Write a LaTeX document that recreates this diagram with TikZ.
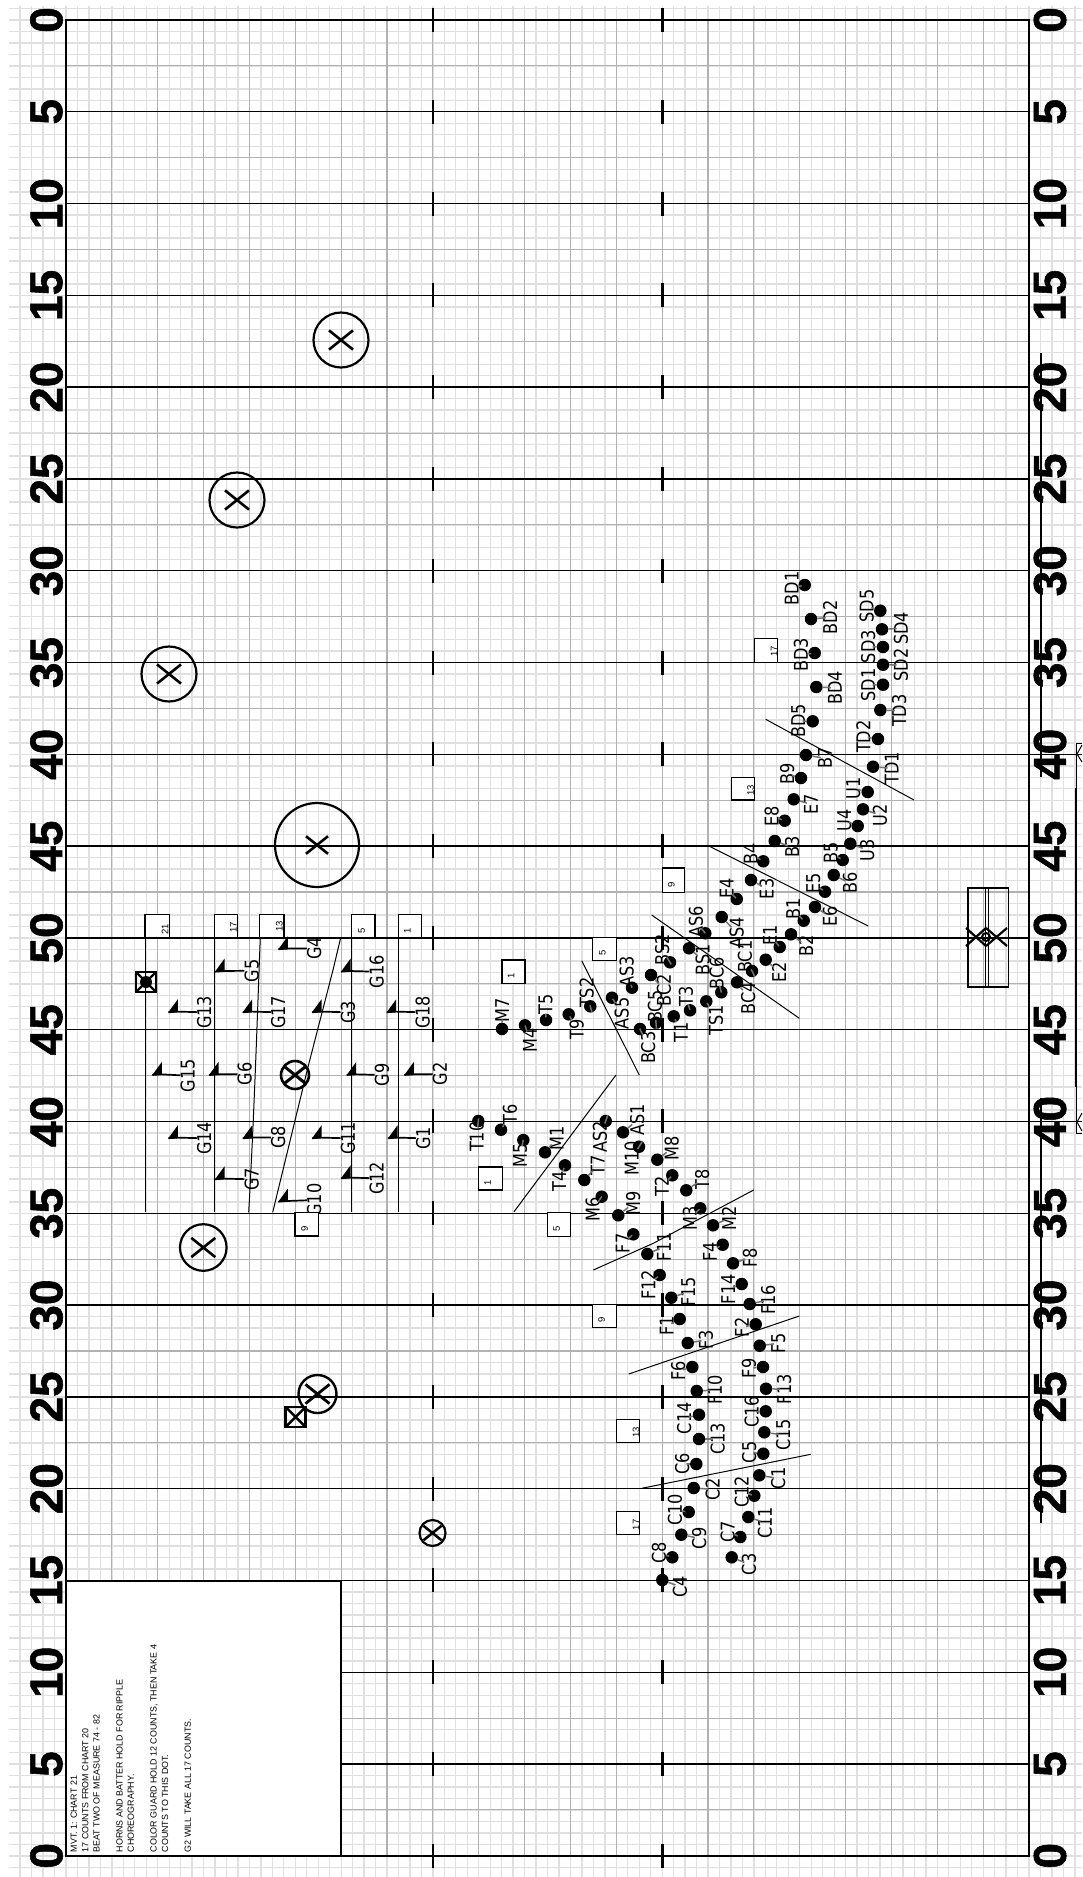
\documentclass[tikz,border=0pt]{standalone}
\usepackage{fontspec}
\setmainfont{Liberation Sans}
\newfontfamily\dvu[FakeStretch=0.85]{DejaVu Sans}
\newfontfamily\bigf[BoldFeatures={FakeBold=1.2}]{Liberation Sans}
\newcommand\FY{91.79}
\tikzset{
  fine/.style={draw=black!12,line width=1.3pt},
  medium/.style={draw=black!30,line width=1.1pt},
  yard/.style={draw=black,line width=1.4pt},
  hashm/.style={draw=black,line width=2.6pt},
  form/.style={draw=black,line width=1pt},
  lab/.style={rotate=90,inner sep=0pt,font=\dvu\fontsize{19}{19}\selectfont},
  dotn/.style={circle,fill=black,inner sep=0pt,minimum size=12.5pt},
  leader/.style={draw=black!55,line width=1.5pt,shorten >=-3pt},
  bignum/.style={rotate=90,inner sep=0pt,font=\bigf\bfseries\fontsize{46}{46}\selectfont},
  cbx/.style={draw=black,fill=white,line width=1.1pt},
  cnum/.style={rotate=90,inner sep=0pt,font=\fontsize{9.5}{9.5}\selectfont},
  stem/.style={draw=black,line width=1.7pt},
  ringm/.style={draw=black},
}
\newcommand\dl[5]{%
  \node[lab] (l#1) at (#4,#5) {#1};
  \node[dotn] (d#1) at (#2,#3) {};
  \draw[leader] (d#1) -- (l#1);}
\newcommand\gd[5]{%
  \coordinate (f#1) at (#2,#3);
  \node[lab] (l#1) at (#4,#5) {#1};
  \fill (f#1) -- ++(9.5,0) -- ++(0,-13) -- cycle;
  \draw[stem] (f#1) -- ++(9,-0.7) coordinate (s#1) -- (l#1);
  }
\newcommand\cb[7]{%
  \draw[cbx] (#1,#2) rectangle (#3,#4);
  \node[cnum] at (#6,#7) {#5};}
\newcommand\cx[5]{%
  \draw[ringm,line width=#5pt] (#1,#2) circle[radius=#3pt];
  \draw[line width=#5pt+0.4pt] (#1-#4,#2-#4*.8) -- (#1+#4,#2+#4*.8) (#1-#4,#2+#4*.8) -- (#1+#4,#2-#4*.8);}
\newcommand\sqx[2]{%
  \draw[line width=2.4pt] (#1-10,#2-10) rectangle (#1+10,#2+10);
  \draw[line width=2.4pt] (#1-10,#2-10) -- (#1+10,#2+10) (#1-10,#2+10) -- (#1+10,#2-10);}
\begin{document}
\begin{tikzpicture}[x=1pt,y=-1pt]
\path[use as bounding box,fill=white] (0,0) rectangle (1082,1877);
% light paper grid
\foreach \k in {-4,...,88} \draw[fine] ({66+11.465*\k},6) -- ({66+11.465*\k},1877);
\foreach \k in {-1,...,161} \draw[fine] (9,{20+11.4745*\k}) -- (1082,{20+11.4745*\k});
% medium grid
\foreach \k in {1,...,20} \draw[medium] ({66+45.86*\k},20) -- ({66+45.86*\k},1855.8);
\foreach \k in {0,...,19} \draw[medium] (66,{20+\FY*(\k+.5)}) -- (1029,{20+\FY*(\k+.5)});
% yard lines and hashes
\foreach \k in {0,...,20} {
  \draw[yard] (66,{20+\FY*\k}) -- (1029,{20+\FY*\k});
  \draw[hashm] (432.8,{20+\FY*\k-12}) -- (432.8,{20+\FY*\k+12});
  \draw[hashm] (662.3,{20+\FY*\k-12}) -- (662.3,{20+\FY*\k+12});
}
\draw[yard] (1029,754.3) -- (1082,754.3) (1029,1121.5) -- (1082,1121.5);
\draw[draw=black,line width=1.6pt] (66,20) rectangle (1029,1855.8);
% outside marks on the right
\draw[line width=2.2pt] (1041,353) -- (1041,777) (1041,1098) -- (1041,1523);
\draw[line width=0.9pt] (1076,743) -- (1076,1133) (1076,743) -- (1082,743) (1076,1133) -- (1082,1133);
\draw[line width=2pt] (1076,788) -- (1076,1087);
\draw[line width=1pt] (1082,745) -- (1077,754) -- (1082,762) (1082,1113) -- (1077,1122) -- (1082,1131);
% yard numbers
\foreach \k/\n in {0/0,1/5,2/10,3/15,4/20,5/25,6/30,7/35,8/40,9/45,10/50,11/45,12/40,13/35,14/30,15/25,16/20,17/15,18/10,19/5,20/0} {
  \node[bignum] (nl\k) at (46.5,{20+\FY*\k}) {\n};
  \node[bignum] (nr\k) at (1050,{20+\FY*\k}) {\n};
}
% notes box
\draw[draw=black,fill=white,line width=1.4pt] (66,1580.8) rectangle (341,1855.8);
\node[rotate=90,anchor=north west,inner sep=0pt,align=left,font=\fontsize{8.9}{11.4}\selectfont] (notes) at (70.5,1852.5) {MVT. 1: CHART 21\\17 COUNTS FROM CHART 20\\BEAT TWO OF MEASURE 74 - 82\\ \\HORNS AND BATTER HOLD FOR RIPPLE\\CHOREOGRAPHY.\\ \\COLOR GUARD HOLD 12 COUNTS, THEN TAKE 4\\COUNTS TO THIS DOT.\\ \\G2 WILL TAKE ALL 17 COUNTS.};
% guard form lines
\draw[form] (145,937.7) -- (145,1212.3) (214.3,937.7) -- (214.3,1212.3) (351.7,937.7) -- (351.7,1212.3) (398.3,937.7) -- (398.3,1212.3);
\draw[form] (260.3,937.7) .. controls (258.5,980) and (255,1100) .. (248.7,1212.3);
\draw[form] (340.7,937.7) -- (333,970) -- (308,1067) -- (272.7,1212.3);
% other form lines
\draw[form] (581.7,960.7) -- (639.3,1075);
\draw[form] (616,1075) -- (514,1211.7);
\draw[form] (753.7,1190) -- (653.3,1243.3) -- (593.3,1270);
\draw[form] (799.3,1316) -- (628.7,1374);
\draw[form] (810.7,1454.3) -- (641.7,1488.3);
\draw[form] (651.7,915) -- (799.3,1018.3);
\draw[form] (708.3,845.7) -- (868.3,926);
\draw[form] (765.7,719.3) -- (914,800);
% guard flags
\gd{G4}{278.3}{949.3}{314.3}{948.3}
\gd{G5}{215}{971.7}{251.7}{970.7}
\gd{G16}{341}{971.7}{376.7}{971.7}
\gd{G13}{168.3}{1012.3}{204.3}{1012.3}
\gd{G17}{242.7}{1012.3}{278.3}{1012.3}
\gd{G3}{312}{1012.3}{348}{1012.3}
\gd{G18}{386.7}{1012.3}{422.7}{1012.3}
\gd{G15}{152.3}{1075}{187.7}{1075.7}
\gd{G6}{209}{1075}{244.7}{1074}
\gd{G9}{346.7}{1075}{382}{1075}
\gd{G2}{404.3}{1075}{440}{1074}
\gd{G14}{168.3}{1138.3}{204.3}{1138.3}
\gd{G8}{242.7}{1138.3}{278.3}{1137.3}
\gd{G11}{312}{1138.3}{348}{1138.3}
\gd{G1}{388}{1138.3}{423.3}{1138.3}
\gd{G7}{215}{1179.3}{251.7}{1179.3}
\gd{G12}{341}{1178.3}{376.7}{1178.3}
\gd{G10}{278.3}{1201.7}{314.3}{1200}
% performers
\dl{M7}{502}{1029}{502.3}{1010}
\dl{M4}{525}{1025.3}{530}{1040.7}
\dl{T5}{546}{1020}{545.7}{1004}
\dl{T9}{568.7}{1014.3}{576.7}{1029.3}
\dl{TS2}{590.3}{1006.3}{586.7}{992.7}
\dl{AS3}{632}{987.7}{626.7}{971.7}
\dl{AS5}{612}{997.7}{621.7}{1013.3}
\dl{BC2}{651}{975}{664}{990}
\dl{BS2}{670}{962.3}{662.3}{950}
\dl{BC5}{656}{1022.7}{655}{1006.7}
\dl{BC3}{640}{1029}{648.3}{1047.7}
\dl{T1}{673.7}{1016.3}{681}{1032.3}
\dl{T3}{690}{1010.3}{686}{996.7}
\dl{TS1}{706.3}{1001.3}{716}{1020}
\dl{BC6}{721.3}{992.3}{716.7}{973.3}
\dl{BS1}{689}{948.3}{702.7}{960}
\dl{AS6}{705.3}{933.3}{696}{921.7}
\dl{AS4}{721.7}{917}{736.7}{932.7}
\dl{E4}{736.7}{899}{726.7}{888.3}
\dl{E3}{751}{880}{766.7}{888.8}
\dl{BC4}{737}{982.3}{748.3}{998.3}
\dl{BC1}{752}{971}{745}{956.7}
\dl{E2}{765.7}{959.7}{779}{972.3}
\dl{E1}{779.7}{947}{770}{935}
\dl{B2}{791}{934.3}{806}{945.7}
\dl{B1}{803.7}{920.7}{793.3}{909.3}
\dl{BD1}{804.7}{585}{791.7}{588.3}
\dl{BD2}{811}{619}{830}{617.3}
\dl{BD3}{814.7}{653}{801}{655}
\dl{BD4}{816.3}{687}{835}{687.7}
\dl{BD5}{812.7}{721.3}{798.3}{721}
\dl{B7}{806}{755}{825}{758.3}
\dl{B9}{801}{778}{787.3}{774.3}
\dl{E7}{793.7}{799.3}{811}{804.3}
\dl{E8}{784.7}{820.7}{771.7}{816}
\dl{B3}{774.7}{841}{792.3}{847.3}
\dl{B4}{763.3}{861.3}{750.7}{854}
\dl{SD5}{880.3}{610.7}{866.7}{606}
\dl{SD4}{882}{629.3}{901}{628.3}
\dl{SD3}{883}{647}{868.3}{646.7}
\dl{SD2}{883}{664.7}{901}{665}
\dl{SD1}{883}{684.7}{868.3}{685}
\dl{TD3}{880.3}{710}{899.3}{710.7}
\dl{TD2}{878}{739}{863.3}{736.7}
\dl{TD1}{873}{766.7}{891.7}{768.3}
\dl{U1}{867.7}{792}{853.3}{788.3}
\dl{U2}{863}{809.3}{880}{815}
\dl{U4}{857.7}{826}{844.3}{820}
\dl{U3}{850.3}{843.7}{867.3}{850}
\dl{B5}{842.7}{860}{830.7}{852.7}
\dl{B6}{833.7}{875}{850}{883.3}
\dl{E5}{825}{891.7}{813.3}{883.3}
\dl{E6}{815}{907}{830}{916.7}
\dl{T10}{478.3}{1121}{476.7}{1136.7}
\dl{T6}{501}{1129.7}{510}{1114.3}
\dl{M5}{523.3}{1140}{520}{1155}
\dl{M1}{545}{1152.3}{556.7}{1138.3}
\dl{T4}{565}{1165.3}{559.3}{1181}
\dl{T7}{584.3}{1180}{597.7}{1165}
\dl{AS2}{605.7}{1121}{600}{1136.7}
\dl{AS1}{623}{1132.3}{637.3}{1120}
\dl{M10}{639}{1146.7}{631.7}{1158.3}
\dl{M8}{657.3}{1159.7}{671.7}{1148.3}
\dl{T2}{672.3}{1175.3}{661.7}{1186.7}
\dl{T8}{686.3}{1190.3}{702.3}{1179.3}
\dl{M3}{700.3}{1208.3}{690}{1218.3}
\dl{M2}{713}{1225.3}{729}{1218.3}
\dl{M6}{601.7}{1196.7}{592.7}{1209.3}
\dl{M9}{618.3}{1215.3}{633.3}{1203.3}
\dl{F7}{633.3}{1234.3}{622.7}{1243.3}
\dl{F11}{647.3}{1254}{664}{1246.7}
\dl{F12}{659.7}{1275}{648.3}{1285}
\dl{F15}{671.3}{1297.7}{688.3}{1291.7}
\dl{F4}{722.7}{1244.7}{710}{1251.7}
\dl{F8}{733}{1263.3}{750}{1257.7}
\dl{F14}{741.7}{1284}{728.3}{1289.3}
\dl{F16}{749.7}{1304}{768.3}{1300}
\dl{F1}{679.7}{1319}{666.7}{1326}
\dl{F3}{687.7}{1343}{706}{1340}
\dl{F2}{755.7}{1324.3}{741.7}{1327.3}
\dl{F5}{759.7}{1345.7}{778.3}{1343.3}
\dl{F6}{692.3}{1367}{678.3}{1371}
\dl{F9}{763}{1367}{749}{1368.3}
\dl{F10}{696.7}{1391}{715}{1390}
\dl{F13}{766}{1388.7}{784.3}{1389.3}
\dl{C14}{699}{1414.7}{684.3}{1418.3}
\dl{C16}{765.7}{1411.3}{751.7}{1411.7}
\dl{C13}{699}{1439}{717.7}{1439}
\dl{C15}{764.3}{1432.3}{783.3}{1435}
\dl{C6}{696.3}{1464}{682.3}{1464}
\dl{C2}{693.7}{1488}{712.7}{1489.3}
\dl{C10}{688.7}{1512}{675}{1510}
\dl{C9}{681.3}{1534.7}{699.3}{1538.3}
\dl{C8}{672.3}{1557.3}{659}{1552.7}
\dl{C4}{662.3}{1580}{680}{1586.7}
\dl{C5}{763.3}{1453.7}{749.3}{1452.3}
\dl{C1}{759.3}{1475.3}{778.3}{1478.3}
\dl{C12}{754.3}{1495.7}{741.7}{1491.7}
\dl{C11}{748.3}{1517}{765}{1522.7}
\dl{C7}{740.3}{1537}{727.7}{1531.7}
\dl{C3}{731.7}{1557.3}{749}{1564.3}
% count boxes
\cb{145}{914.7}{169.3}{937.7}{21}{165}{929}
\cb{214.3}{914.7}{237.3}{937.7}{17}{233.3}{927.7}
\cb{259.7}{914.7}{284}{937.7}{13}{279.3}{926.7}
\cb{351.7}{914.7}{375}{937.7}{5}{361.7}{930.7}
\cb{398.3}{914.7}{421.7}{937.7}{1}{407.3}{930.7}
\cb{295}{1212.3}{318.3}{1236}{9}{304.7}{1229.3}
\cb{502}{960}{525}{983.3}{1}{511}{976}
\cb{592.7}{937.3}{616.7}{960.7}{5}{602.3}{953.3}
\cb{478.3}{1167}{502.3}{1190}{1}{487.7}{1182.7}
\cb{547.3}{1212.7}{570.3}{1236.3}{5}{556.7}{1229.3}
\cb{592.7}{1304.7}{616.7}{1327.3}{9}{601.7}{1320}
\cb{616.7}{1419.3}{639.7}{1442.3}{13}{636}{1432.3}
\cb{616.7}{1511.3}{639.7}{1534.3}{17}{636}{1524.7}
\cb{662.3}{868}{684.7}{892.3}{9}{671.3}{885}
\cb{731.3}{777.3}{754.3}{800}{13}{750.7}{790}
\cb{754.3}{638.7}{777.3}{662.3}{17}{774}{651.7}
% circled crosses
\cx{341}{340}{27.5}{12}{2.2}
\cx{237}{500}{27.5}{12}{2.2}
\cx{169}{674}{27.5}{12}{2.2}
\cx{317}{845}{42}{11}{2.2}
\cx{203.3}{1247.5}{23.3}{12}{2.2}
\cx{317.5}{1394}{19}{12}{2.4}
\cx{295}{1075}{14}{10}{2.6}
\cx{432.5}{1533}{13}{9}{2.2}
% boxed crosses
\sqx{146}{982}
\fill (146,982) circle[radius=6pt];
\sqx{295.6}{1417}
% tower on the right
\draw[line width=1.6pt] (968,888) rectangle (985.3,987);
\draw[line width=1.6pt] (988.5,888) rectangle (1008.3,987);
\draw[line width=1.6pt] (968,888) -- (1008.3,888) (968,987) -- (1008.3,987);
\draw[line width=2.2pt] (966,928) -- (986,946) (966,946) -- (986,928) (986,928) -- (1007,946) (986,946) -- (1007,928);
\draw[line width=2pt] (986,937) circle[radius=4pt];
\end{tikzpicture}
\end{document}
